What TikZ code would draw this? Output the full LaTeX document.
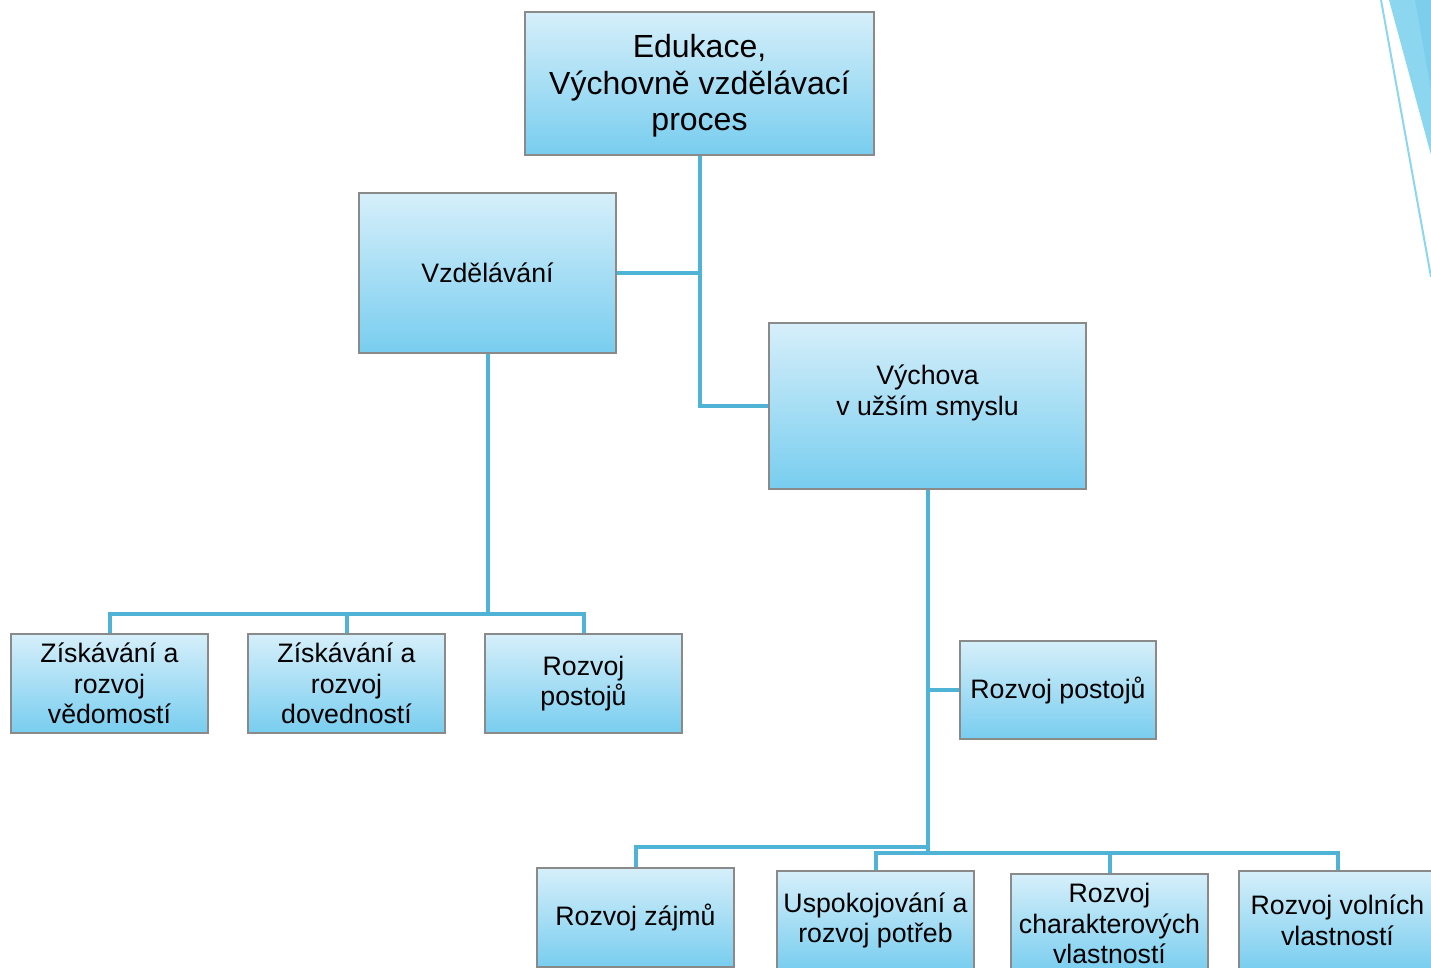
\documentclass[tikz,border=0pt]{standalone}
\usepackage{fontspec}
\setmainfont{Liberation Sans}
\definecolor{conncol}{HTML}{4FB3D6}
\definecolor{boxtop}{HTML}{D6EFFA}
\definecolor{boxbot}{HTML}{78CDEF}
\definecolor{boxline}{HTML}{8A8A8A}
\definecolor{decoA}{HTML}{8DD6EF}
\definecolor{decoB}{HTML}{7CCEEC}
\begin{document}
\begin{tikzpicture}[x=1pt,y=-1pt,
  box/.style={draw=boxline, line width=1.2pt, top color=boxtop, bottom color=boxbot,
    inner sep=0pt, align=center, font=\fontsize{26.7}{30.5}\selectfont},
  smallbox/.style={box, minimum width=197pt, minimum height=99pt},
  plain/.style={inner sep=0pt, align=center, font=\fontsize{26.7}{30.5}\selectfont},
  conn/.style={draw=conncol, line width=4pt}]
\useasboundingbox (0,0) rectangle (1431,967);
\clip (0,0) rectangle (1431,967);
% decoration
\fill[decoA] (1389,0) -- (1431,0) -- (1431,155) -- cycle;
\fill[decoB] (1415,0) -- (1431,0) -- (1431,90) -- cycle;
\draw[decoA, line width=2pt] (1381,0) -- (1431,277);
% nodes
\node[box, minimum width=349pt, minimum height=143pt] (top) at (699.5,83.5) {};
\node[plain, font=\fontsize{32}{36.5}\selectfont] (toptext) at (699.5,86) {Edukace,\\Výchovně vzdělávací\\proces};
\node[box, minimum width=257pt, minimum height=160pt] (vzd) at (487.5,273) {Vzdělávání};
\node[box, minimum width=317pt, minimum height=166pt] (vych) at (927.5,406) {};
\node[plain] (vychtext) at (927.5,393) {Výchova\\v užším smyslu};
\node[smallbox] (l1) at (109.5,683.5) {Získávání a\\rozvoj\\vědomostí};
\node[smallbox] (l2) at (346.5,683.5) {Získávání a\\rozvoj\\dovedností};
\node[smallbox] (l3) at (583.5,683.5) {Rozvoj\\postojů};
\node[box, minimum width=196pt, minimum height=98pt] (rp) at (1058,690) {Rozvoj postojů};
\node[smallbox] (b1) at (635.5,917.5) {Rozvoj zájmů};
\node[smallbox] (b2) at (875.5,920.5) {Uspokojování a\\rozvoj potřeb};
\node[smallbox] (b3) at (1109.5,923.5) {Rozvoj\\charakterových\\vlastností};
\node[smallbox] (b4) at (1337.5,920.5) {Rozvoj volních\\vlastností};
% connectors
\coordinate (lbus) at (487.5,614);
\coordinate (rbusA) at (927.5,847);
\coordinate (rbusB) at (927.5,853);
\draw[conn] (top.south) -- (top.south |- vych.west) -- (vych.west);
\draw[conn] (vzd.east) -- (vzd.east -| top.south);
\draw[conn] (vzd.south) -- (lbus);
\draw[conn] (l1.north) -- (l1.north |- lbus) -- (l3.north |- lbus) -- (l3.north);
\draw[conn] (l2.north) -- (l2.north |- lbus);
\draw[conn] (vych.south) -- (rbusB);
\draw[conn] (rp.west) -- (rp.west -| vych.south);
\draw[conn] (b1.north) -- (b1.north |- rbusA) -- (rbusA);
\draw[conn] (b2.north) -- (b2.north |- rbusB) -- (b4.north |- rbusB) -- (b4.north);
\draw[conn] (b3.north) -- (b3.north |- rbusB);
\end{tikzpicture}
\end{document}
